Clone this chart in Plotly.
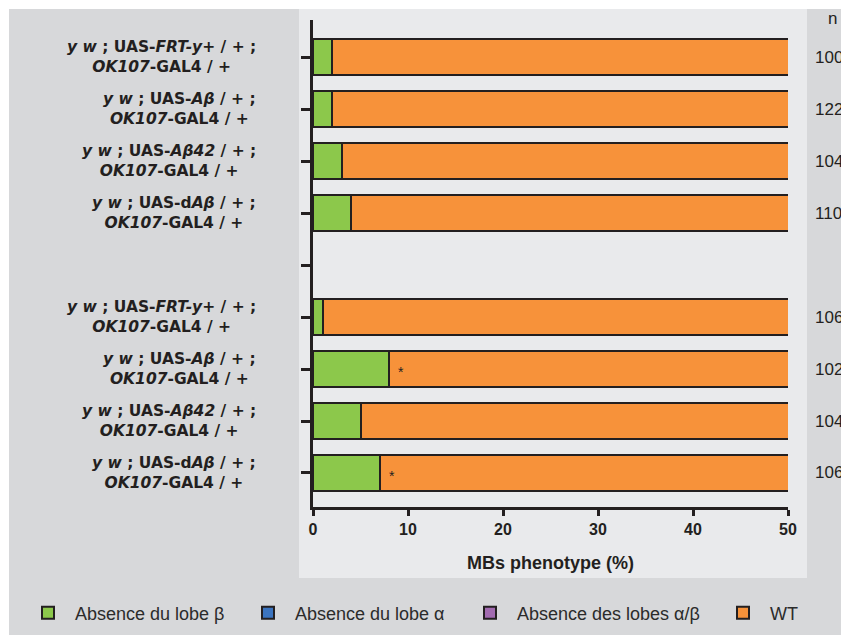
import plotly.graph_objects as go

# ---------------- data ----------------
genotypes = [
    "<b><i>y w</i> ; UAS-<i>FRT-y+</i> / + ;<br><i>OK107</i>-GAL4 / +</b>",
    "<b><i>y w</i> ; UAS-<i>Aβ</i> / + ;<br><i>OK107</i>-GAL4 / +</b>",
    "<b><i>y w</i> ; UAS-<i>Aβ42</i> / + ;<br><i>OK107</i>-GAL4 / +</b>",
    "<b><i>y w</i> ; UAS-d<i>Aβ</i> / + ;<br><i>OK107</i>-GAL4 / +</b>",
]
row_labels = genotypes + genotypes          # two groups of four genotypes
absence_beta = [2, 2, 3, 4, 1, 8, 5, 7]      # green
absence_alpha = [0, 0, 0, 0, 0, 0, 0, 0]     # blue
absence_alpha_beta = [0, 0, 0, 0, 0, 0, 0, 0]  # purple
wt = [98, 98, 97, 96, 99, 92, 95, 93]        # orange
n_values = [100, 122, 104, 110, 106, 102, 104, 106]
significance = ["", "", "", "", "", "*", "", "*"]
x_ticks = [0, 10, 20, 30, 40, 50]

series_names = ["Absence du lobe β", "Absence du lobe α", "Absence des lobes α/β", "WT"]
series_values = [absence_beta, absence_alpha, absence_alpha_beta, wt]
series_colors = ["#8cc84b", "#3b74bf", "#a26bb0", "#f7923a"]

# ---------------- layout helpers ----------------
DARK = "#231f20"
W, H = 841, 635
L, R, T, B = 313, 53, 20, 128
pw, ph = W - L - R, H - T - B

def px_x(px):
    return (px - L) / pw

def px_y(py):
    return (H - B - py) / ph

# y position for each row: group of 4, an empty slot, group of 4
ypos = [i + (1 if i >= 4 else 0) for i in range(len(row_labels))]

fig = go.Figure()
legend_ids = ["legend", "legend2", "legend3", "legend4"]
for name, vals, col, lid in zip(series_names, series_values, series_colors, legend_ids):
    fig.add_trace(go.Bar(
        y=ypos, x=vals, orientation="h", name=name,
        marker=dict(color=col, line=dict(color=DARK, width=2)),
        legend=lid, hoverinfo="x+name",
    ))

annotations = []
# genotype labels
for y, lab in zip(ypos, row_labels):
    annotations.append(dict(
        x=px_x(258), xref="paper", y=y, yref="y", text=lab,
        xanchor="right", yanchor="middle", align="center", showarrow=False,
        font=dict(family="DejaVu Sans", size=15.5, color=DARK),
    ))
# n column
annotations.append(dict(
    x=px_x(832), xref="paper", y=px_y(18), yref="paper", text="n",
    xanchor="center", yanchor="middle", showarrow=False,
    font=dict(family="Liberation Sans", size=17, color=DARK),
))
for y, n in zip(ypos, n_values):
    annotations.append(dict(
        x=px_x(813), xref="paper", y=y, yref="y", text=str(n),
        xanchor="left", yanchor="middle", showarrow=False,
        font=dict(family="Liberation Sans", size=17, color=DARK),
    ))
# significance stars
for y, g, s in zip(ypos, absence_beta, significance):
    if s:
        annotations.append(dict(
            x=g, xref="x", y=y, yref="y", text=s, xshift=12, yshift=-3,
            xanchor="center", yanchor="middle", showarrow=False,
            font=dict(family="Liberation Sans", size=14, color=DARK),
        ))

shapes = [
    # outer grey background
    dict(type="rect", xref="paper", yref="paper", layer="below",
         x0=px_x(9), x1=px_x(860), y0=px_y(660), y1=px_y(9),
         fillcolor="#d7d8da", line=dict(width=0)),
    # lighter chart panel
    dict(type="rect", xref="paper", yref="paper", layer="below",
         x0=px_x(299), x1=px_x(807), y0=px_y(578), y1=px_y(9),
         fillcolor="#e9eaec", line=dict(width=0)),
]

legend_x_px = [21, 241, 463, 716]
legend_common = dict(orientation="h", yanchor="middle", xanchor="left",
                     xref="container", yref="container",
                     bgcolor="rgba(0,0,0,0)", borderwidth=0, itemwidth=44,
                     font=dict(family="Liberation Sans", size=18, color="#2b2b2b"))
legend_layout = {}
for lid, xp in zip(legend_ids, legend_x_px):
    legend_layout[lid] = dict(x=xp / W, y=1 - 613 / H, **legend_common)

fig.update_layout(
    width=W, height=H,
    margin=dict(l=L, r=R, t=T, b=B, pad=0, autoexpand=False),
    paper_bgcolor="white", plot_bgcolor="rgba(0,0,0,0)",
    barmode="stack", bargap=0.31,
    showlegend=True,
    xaxis=dict(
        range=[0, 50], tickvals=x_ticks, ticks="outside", ticklen=6, tickwidth=3,
        tickcolor=DARK, showline=True, linewidth=3, linecolor=DARK,
        showgrid=False, zeroline=False, automargin=False,
        tickfont=dict(family="Liberation Sans", size=16, color=DARK, weight="bold"),
        title=dict(text="<b>MBs phenotype (%)</b>", standoff=20,
                   font=dict(family="Liberation Sans", size=18, color=DARK)),
    ),
    yaxis=dict(
        range=[8.654, -0.712], tickvals=list(range(9)), showticklabels=False,
        ticks="outside", ticklen=9, tickwidth=3, tickcolor=DARK,
        showline=True, linewidth=3, linecolor=DARK,
        showgrid=False, zeroline=False, automargin=False,
    ),
    annotations=annotations,
    shapes=shapes,
    **legend_layout,
)

fig.write_html(
    "out.html",
    config={"displayModeBar": False},
    post_script="document.body.style.margin='0';document.body.style.overflow='hidden';",
)
